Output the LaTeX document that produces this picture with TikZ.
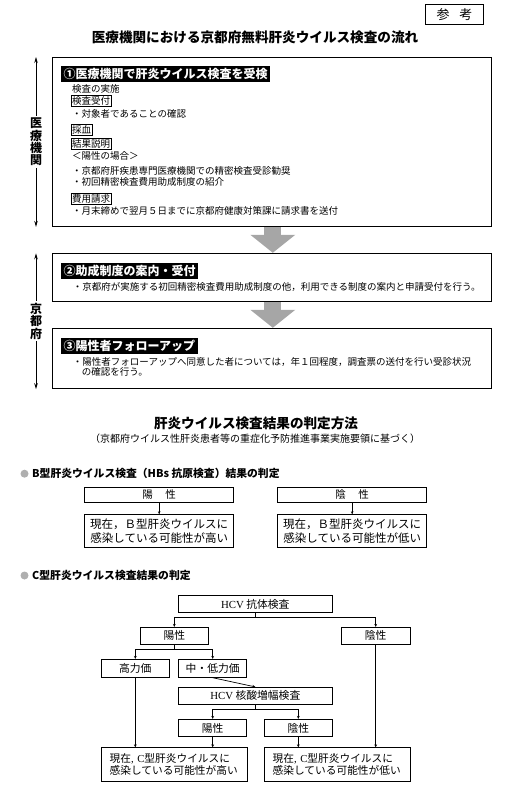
\documentclass[tikz,border=0pt]{standalone}
\usepackage{fontspec}
\setmainfont{Noto Sans CJK JP}
\newfontfamily\tms{Liberation Serif}
\usetikzlibrary{arrows.meta,calc}
\definecolor{arrowgrey}{RGB}{166,166,166}
\definecolor{dotgrey}{RGB}{175,175,175}
\newcommand\myfs[1]{\fontsize{#1}{#1}\selectfont}
\tikzset{
 bigbox/.style={draw, line width=0.9pt, anchor=north west, inner sep=0pt},
 titlebar/.style={fill=black, text=white, font=\bfseries\myfs{12}, inner xsep=2.5pt, inner ysep=0pt, minimum height=15.5pt, anchor=west},
 body/.style={font=\myfs{9.5}, inner sep=0pt, anchor=west},
 tagbox/.style={draw, line width=0.6pt, font=\myfs{9.5}, inner xsep=0.8pt, inner ysep=0pt, minimum height=11.5pt, anchor=west},
 sidearrow/.style={line width=0.8pt, {Stealth[length=6pt,width=3.5pt]}-{Stealth[length=6pt,width=3.5pt]}},
 sidelabel/.style={fill=white, font=\bfseries\fontsize{12}{12.3}\selectfont, align=center, inner xsep=1pt, inner ysep=2pt},
 bigarrow/.style={draw=arrowgrey, line width=17pt, -{Triangle[length=18pt,width=44pt]}},
 heading/.style={font=\bfseries\myfs{13.6}, inner sep=0pt},
 secthead/.style={font=\bfseries\myfs{10.8}, inner sep=0pt, anchor=west},
 bbox/.style={draw, line width=0.8pt, anchor=north west, inner sep=0pt, minimum width=149pt},
 cbox/.style={draw, line width=0.8pt, inner sep=0pt, minimum width=68pt, minimum height=17.5pt, font=\myfs{10.8}},
 wbox/.style={draw, line width=0.8pt, inner sep=0pt, minimum width=154pt, minimum height=17pt, font=\myfs{10.8}},
 rbox/.style={draw, line width=0.8pt, anchor=north west, inner xsep=8pt, inner ysep=0pt, text width=129.4pt, minimum height=33.7pt, align=left, font=\fontsize{10.7}{11.8}\selectfont},
 smallarrow/.style={line width=0.6pt, -{Stealth[length=3pt,width=2.6pt]}},
 carrow/.style={line width=0.7pt, -{Stealth[length=3pt,width=2.8pt]}},
}
\begin{document}
\begin{tikzpicture}[x=1pt,y=-1pt]
\useasboundingbox (0,0) rectangle (522,810);
% header
\node[draw, line width=0.8pt, minimum width=58pt, minimum height=20pt, inner sep=0pt, font=\myfs{13}, anchor=north west] (ref) at (425,4) {参\hspace{0.75em}考};
\node[heading] (title1) at (255,37) {医療機関における京都府無料肝炎ウイルス検査の流れ};

% box 1
\node[bigbox, minimum width=438.7pt, minimum height=169pt] (box1) at (52,57) {};
\node[titlebar] (t1) at (61,74) {①医療機関で肝炎ウイルス検査を受検};
\node[body] (b1a) at (72,89) {検査の実施};
\node[tagbox] (g1) at (71,101) {検査受付};
\node[body] (b1b) at (72,114) {・対象者であることの確認};
\node[tagbox] (g2) at (71,130) {採血};
\node[tagbox] (g3) at (71,144) {結果説明};
\node[body] (b1c) at (72,156) {＜陽性の場合＞};
\node[body] (b1d) at (72,171) {・京都府肝疾患専門医療機関での精密検査受診勧奨};
\node[body] (b1e) at (72,182) {・初回精密検査費用助成制度の紹介};
\node[tagbox] (g4) at (71,198.7) {費用請求};
\node[body] (b1f) at (72,211) {・月末締めで翌月５日までに京都府健康対策課に請求書を送付};

% box 2
\node[bigbox, minimum width=438.7pt, minimum height=47.7pt] (box2) at (52,253.3) {};
\node[titlebar] (t2) at (61,271) {②助成制度の案内・受付};
\node[body] (b2a) at (72.7,286.7) {・京都府が実施する初回精密検査費用助成制度の他，利用できる制度の案内と申請受付を行う。};

% box 3
\node[bigbox, minimum width=438.7pt, minimum height=60pt] (box3) at (52,328.3) {};
\node[titlebar] (t3) at (61,346) {③陽性者フォローアップ};
\node[body] (b3a) at (72.7,361.7) {・陽性者フォローアップへ同意した者については，年１回程度，調査票の送付を行い受診状況};
\node[body] (b3b) at (81.7,371.7) {の確認を行う。};

% grey arrows
\draw[bigarrow] ($(box1.south)+(1,0.5)$) -- ($(box2.north)+(1,-0.5)$);
\draw[bigarrow] ($(box2.south)+(1,0.5)$) -- ($(box3.north)+(1,-0.5)$);

% side arrows
\draw[sidearrow] ($(box1.north west)+(-16,0)$) -- ($(box1.south west)+(-16,0)$) node[midway, sidelabel] (lab1) {医\\療\\機\\関};
\draw[sidearrow] ($(box2.north west)+(-16,0)$) -- ($(box3.south west)+(-16,0)$) node[midway, sidelabel] (lab2) {京\\都\\府};

% section 2
\node[heading] (title2) at (256,423) {肝炎ウイルス検査結果の判定方法};
\node[inner sep=0pt, font=\myfs{10}] (sub2) at (255,439) {（京都府ウイルス性肝炎患者等の重症化予防推進事業実施要領に基づく）};

% B
\fill[dotgrey] (24.5,473.7) circle (4pt);
\node[secthead] (bh) at (32,473.7) {B型肝炎ウイルス検査（HBs 抗原検査）結果の判定};
\node[bbox, minimum height=15pt, font=\myfs{10.5}] (bpos) at (84.3,486.7) {陽\hspace{1.2em}性};
\node[bbox, minimum height=15pt, font=\myfs{10.5}] (bneg) at (277.3,486.7) {陰\hspace{1.2em}性};
\node[bbox, minimum height=33pt, align=center, font=\fontsize{11.5}{13.4}\selectfont] (bres1) at (84.3,514.3) {現在，Ｂ型肝炎ウイルスに\\感染している可能性が高い};
\node[bbox, minimum height=33pt, align=center, font=\fontsize{11.5}{13.4}\selectfont] (bres2) at (277.3,514.3) {現在，Ｂ型肝炎ウイルスに\\感染している可能性が低い};
\draw[smallarrow] (bpos.south) -- (bres1.north);
\draw[smallarrow] (bneg.south) -- (bres2.north);

% C
\fill[dotgrey] (24.5,575.5) circle (4pt);
\node[secthead] (ch) at (32,575.5) {C型肝炎ウイルス検査結果の判定};
\node[wbox, minimum height=16.6pt] (hcv1) at (255.3,604) {{\tms HCV} 抗体検査};
\node[cbox, minimum height=17pt] (pos1) at (174.3,635.8) {陽性};
\node[cbox, minimum width=68.7pt, minimum height=17pt] (neg1) at (375.7,635.8) {陰性};
\node[cbox, minimum height=18pt] (high) at (135.3,668.3) {高力価};
\node[cbox, minimum height=18pt] (midlow) at (212.7,668.3) {中・低力価};
\node[wbox] (hcv2) at (255.3,695.8) {{\tms HCV} 核酸増幅検査};
\node[cbox, minimum height=17.4pt] (pos2) at (212.7,728) {陽性};
\node[cbox, minimum height=17.4pt] (neg2) at (298.3,728) {陰性};
\node[rbox] (resL) at (101.3,747.3) {現在{\tms, C}型肝炎ウイルスに\\感染している可能性が高い};
\node[rbox, text width=129.7pt] (resR) at (264.3,747.3) {現在{\tms, C}型肝炎ウイルスに\\感染している可能性が低い};

\draw[carrow] (hcv1.south) -- ++(0,5) -| (pos1.north);
\draw[carrow] (hcv1.south) -- ++(0,5) -| (neg1.north);
\draw[carrow] (pos1.south) -- ++(0,5) -| (high.north);
\draw[carrow] (pos1.south) -- ++(0,5) -| (midlow.north);
\draw[carrow] (midlow.south) -- (hcv2.north);
\draw[carrow] (hcv2.south) -- ++(0,5) -| (pos2.north);
\draw[carrow] (hcv2.south) -- ++(0,5) -| (neg2.north);
\draw[carrow] (high.south) -- (high.south |- resL.north);
\draw[carrow] (pos2.south) -- (pos2.south |- resL.north);
\draw[carrow] (neg2.south) -- (neg2.south |- resR.north);
\draw[carrow] (neg1.south) -- (neg1.south |- resR.north);
\end{tikzpicture}
\end{document}
